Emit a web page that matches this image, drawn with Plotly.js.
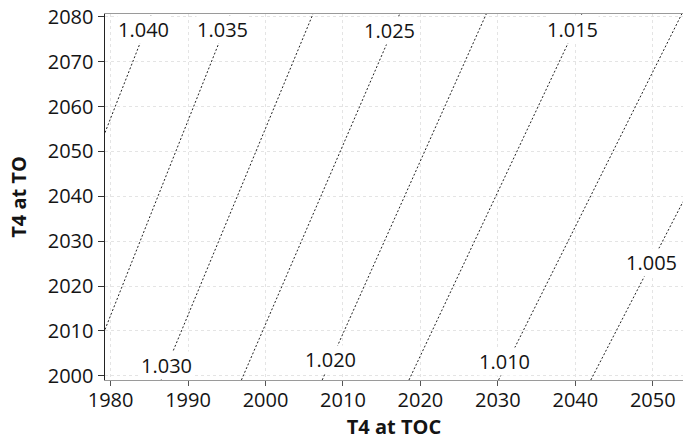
<!DOCTYPE html>
<html>
<head>
<meta charset="utf-8">
<script src="https://cdn.plot.ly/plotly-3.0.1.min.js"></script>
<style>
  html, body { margin: 0; padding: 0; background: #fff; }
  #chart { width: 684px; height: 444px; }
</style>
</head>
<body>
<div id="chart"></div>
<script>
// Contour levels of the ratio, one straight iso-line per level
const levels = ['1.040', '1.035', '1.030', '1.025', '1.020', '1.015', '1.010', '1.005'];

// Where each iso-line enters and leaves the plotted window (T4 at TOC, T4 at TO)
const lineStartX = [1979.28, 1979.28, 1986.52, 1996.89, 2007.32, 2018.52, 2030.09, 2042.00];
const lineStartY = [2054.2, 2010.3, 1999.05, 1999.05, 1999.05, 1999.05, 1999.05, 1999.05];
const lineEndX   = [1985.28, 1995.47, 2006.13, 2017.32, 2028.50, 2040.84, 2053.74, 2053.90];
const lineEndY   = [2080.65, 2080.65, 2080.65, 2080.65, 2080.65, 2080.65, 2080.65, 2038.8];

// Label anchor for each level
const labelX = [1984.28, 1994.41, 1987.19, 2016.06, 2008.45, 2039.66, 2030.84, 2049.79];
const labelY = [2077.1, 2077.1, 2002.34, 2077.0, 2003.52, 2077.1, 2003.07, 2025.28];

const xTicks = [1980, 1990, 2000, 2010, 2020, 2030, 2040, 2050];
const yTicks = [2000, 2010, 2020, 2030, 2040, 2050, 2060, 2070, 2080];

const FONT = '"Open Sans", "Noto Sans", sans-serif';
const INK = '#141414';

const traces = levels.map((lv, i) => ({
  type: 'scatter',
  mode: 'lines',
  name: lv,
  x: [lineStartX[i], lineEndX[i]],
  y: [lineStartY[i], lineEndY[i]],
  line: { color: '#222222', width: 1, dash: '2px,2px' },
  hoverinfo: 'skip',
  showlegend: false
}));

// Level labels sit on a white box that breaks their own iso-line
const annotations = levels.map((lv, i) => ({
  x: labelX[i],
  y: labelY[i],
  xref: 'x',
  yref: 'y',
  text: lv,
  showarrow: false,
  font: { family: FONT, size: 20, color: INK },
  bgcolor: '#ffffff',
  borderpad: 0
}));

const layout = {
  width: 684,
  height: 444,
  margin: { l: 105, r: 0.5, t: 14, b: 64 },
  paper_bgcolor: '#ffffff',
  plot_bgcolor: '#ffffff',
  showlegend: false,
  font: { family: FONT, size: 20, color: INK },
  xaxis: {
    range: [1979.28, 2053.9],
    tickmode: 'array',
    tickvals: xTicks,
    ticktext: xTicks.map(String),
    ticks: 'outside',
    ticklen: 5,
    tickcolor: '#555555',
    tickwidth: 1,
    ticklabelstandoff: -3,
    showline: true,
    linecolor: '#9a9a9a',
    linewidth: 1,
    mirror: true,
    showgrid: true,
    gridcolor: '#e4e4e4',
    griddash: 'dot',
    gridwidth: 1,
    zeroline: false,
    tickfont: { family: FONT, size: 20, color: INK },
    title: {
      text: '<b>T4 at TOC</b>',
      font: { family: FONT, size: 20, color: INK },
      standoff: 4
    }
  },
  yaxis: {
    range: [1999.05, 2080.65],
    tickmode: 'array',
    tickvals: yTicks,
    ticktext: yTicks.map(String),
    ticks: 'outside',
    ticklen: 6,
    tickcolor: '#333333',
    tickwidth: 1,
    showline: true,
    linecolor: '#222222',
    linewidth: 1.5,
    showgrid: true,
    gridcolor: '#e4e4e4',
    griddash: 'dot',
    gridwidth: 1,
    zeroline: false,
    tickfont: { family: FONT, size: 20, color: INK },
    title: {
      text: '<b>T4 at TO</b>',
      font: { family: FONT, size: 20, color: INK },
      standoff: 16
    }
  },
  annotations: annotations
};

Plotly.newPlot('chart', traces, layout, { staticPlot: true, displayModeBar: false });
</script>
</body>
</html>
